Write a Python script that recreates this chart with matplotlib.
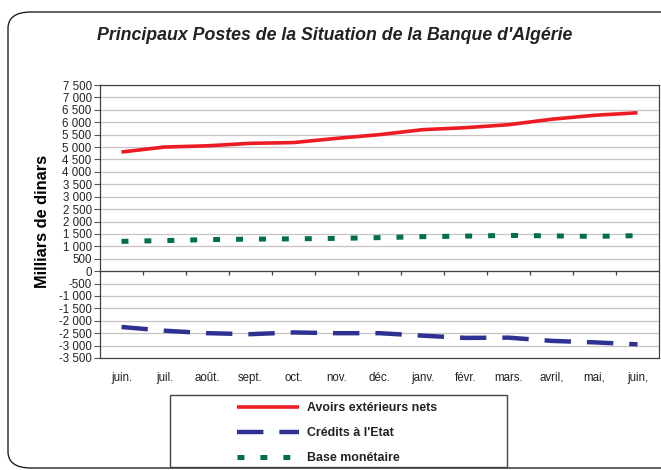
import numpy as np
import matplotlib
matplotlib.use("Agg")
import matplotlib.pyplot as plt
from matplotlib.patches import FancyBboxPatch, Rectangle

plt.rcParams['font.family'] = ['Liberation Sans', 'DejaVu Sans']
plt.rcParams['lines.scale_dashes'] = False

# data
months = ['juin.', 'juil.', 'août.', 'sept.', 'oct.', 'nov.', 'déc.',
          'janv.', 'févr.', 'mars.', 'avril,', 'mai,', 'juin,']
avoirs = [4800, 5000, 5050, 5150, 5180, 5350, 5500, 5700, 5780, 5900, 6120, 6280, 6380]
credits = [-2250, -2400, -2500, -2540, -2470, -2500, -2500, -2600, -2690, -2680, -2810, -2870, -2950]
base = [1200, 1230, 1270, 1290, 1300, 1320, 1350, 1390, 1410, 1440, 1420, 1400, 1430]
yticks = list(range(-3500, 7501, 500))

W, H = 661, 470
fig = plt.figure(figsize=(W / 100, H / 100), dpi=100)

# rounded outer frame
fig.patches.append(FancyBboxPatch((8 / W, 2 / H), 700 / W, 456 / H,
                                  boxstyle="round,pad=0,rounding_size=0.035",
                                  transform=fig.transFigure, fill=False,
                                  edgecolor='#222222', linewidth=1.0, clip_on=False))

ax = fig.add_axes([100 / W, 1 - 358 / H, 559 / W, 273 / H])
x = np.arange(len(months))

ax.plot(x, avoirs, color='#ED1C24', lw=2.6, solid_capstyle='butt', label='Avoirs extérieurs nets')
ax.plot(x, credits, color='#2E3192', lw=3.2, linestyle=(0, (19, 11.5)), label="Crédits à l'Etat")
ax.plot(x, base, color='#00704A', lw=3.6, linestyle=(0, (5, 11.5)), label='Base monétaire')

ax.set_xlim(-0.5, len(months) - 0.5)
ax.set_ylim(-3500, 7500)
ax.set_yticks(yticks)
ax.set_yticklabels([f"{v:,}".replace(',', ' ') for v in yticks], fontsize=8.3, color='#222222')
ax.tick_params(axis='y', direction='out', length=4, color='#555555', pad=2)
ax.yaxis.grid(True, color='#C8C4C4', lw=0.9)
ax.set_axisbelow(True)

ax.set_xticks(x)
ax.set_xticklabels(months, fontsize=8.3, color='#222222')
ax.tick_params(axis='x', length=0, pad=10)

for s in ax.spines.values():
    s.set_color('#444444')
    s.set_linewidth(0.9)

# category axis sitting at zero
ax.axhline(0, color='#444444', lw=0.9)
ax.vlines(np.arange(0.5, len(months) - 0.5), -150, 0, color='#444444', lw=0.9)

ax.set_ylabel('Milliars de dinars', fontsize=11.8, fontweight='bold')
ax.yaxis.set_label_coords(-0.09, 0.5)

fig.text(335 / W, 1 - 35 / H, "Principaux Postes de la Situation de la Banque d'Algérie",
         ha='center', va='center', fontsize=12.8, fontweight='bold', style='italic', color='#222222')

# legend box
fig.patches.append(Rectangle((170 / W, 1 - 467 / H), 337 / W, 72 / H,
                             transform=fig.transFigure, fill=False,
                             edgecolor='#444444', lw=1.0))
handles, labels = ax.get_legend_handles_labels()
leg = fig.legend(handles, labels, loc='upper left', bbox_to_anchor=(237 / W, 1 - 402 / H),
                 frameon=False, borderpad=0, borderaxespad=0, handlelength=5.0,
                 handletextpad=0.7, labelspacing=1.05,
                 prop={'size': 8.9, 'weight': 'bold'})
for t in leg.get_texts():
    t.set_color('#222222')

fig.savefig('out.png', dpi=100)
